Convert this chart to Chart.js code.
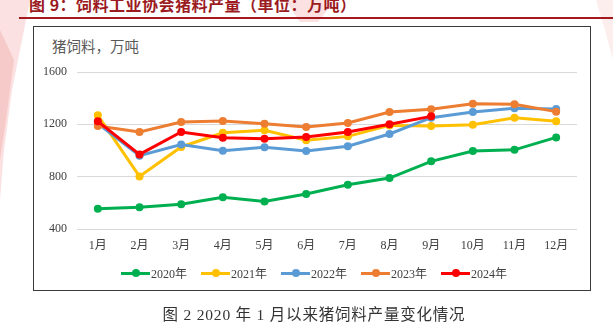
<!DOCTYPE html>
<html>
<head>
<meta charset="utf-8">
<script src="https://cdn.jsdelivr.net/npm/chart.js@4/dist/chart.umd.min.js"></script>
<style>
  html, body { margin: 0; padding: 0; background: #fff; }
  #wrap { position: relative; width: 613px; height: 335px; overflow: hidden; background: #fff; }
  #wm { position: absolute; left: 0; top: 0; }
  #title { position: absolute; left: 29px; top: -8px; font-family: "Noto Sans CJK SC", sans-serif; font-weight: bold; font-size: 16px; color: #9b1b1f; white-space: nowrap; letter-spacing: 0.5px; }
  #rule { position: absolute; left: 19px; top: 17px; width: 594px; height: 2px; background: #a3191e; }
  #box { position: absolute; left: 33px; top: 26px; width: 558px; height: 265px; border: 1.5px solid #3a3a3a; box-sizing: border-box; }
  #ylab { position: absolute; left: 52px; top: 35px; font-family: "Noto Sans CJK SC", sans-serif; font-size: 14.5px; color: #595959; }
  #chart { position: absolute; left: 0; top: 0; }
  #legend { position: absolute; left: 121px; top: 264px; display: flex; font-family: "Liberation Serif", "Noto Sans CJK SC", serif; font-size: 12px; color: #404040; }
  .li { display: flex; align-items: center; margin-right: 14px; }
  .sw { position: relative; width: 29px; height: 3px; margin-right: 1px; }
  .sw i { position: absolute; left: 11px; top: -2.5px; width: 8px; height: 8px; border-radius: 50%; }
  #cap { position: absolute; left: 0; width: 628px; text-align: center; top: 302px; font-family: "Liberation Serif", "Noto Sans CJK SC", serif; font-size: 15.5px; letter-spacing: 0.8px; color: #333; white-space: nowrap; }
</style>
</head>
<body>
<div id="wrap">
  <svg id="wm" width="613" height="335">
    <polygon points="0,0 30,0 22,40 12,90 4,150 0,200" fill="#fbe1e1"/>
    <polygon points="0,30 14,60 6,120 0,160" fill="#f7caca"/>
    <polygon points="285,0 335,0 318,22 300,22" fill="#fbe1e1"/>
    <polygon points="596,0 613,0 613,60 605,30" fill="#fdeeee"/>
  </svg>
  <div id="title">图 9：饲料工业协会猪料产量（单位：万吨）</div>
  <div id="rule"></div>
  <div id="box"></div>
  <div id="ylab">猪饲料，万吨</div>
  <canvas id="chart" width="613" height="335"></canvas>
  <div id="legend"></div>
  <div id="cap">图 2 2020 年 1 月以来猪饲料产量变化情况</div>
</div>
<script>
const months = ["1月","2月","3月","4月","5月","6月","7月","8月","9月","10月","11月","12月"];
const seriesNames = ["2020年","2021年","2022年","2023年","2024年"];
const seriesColors = ["#00B050","#FFC000","#5B9BD5","#ED7D31","#FF0000"];
const y2020 = [555, 567, 590, 642, 611, 667, 738, 789, 917, 996, 1005, 1100];
const y2021 = [1269, 802, 1027, 1136, 1154, 1078, 1108, 1192, 1187, 1197, 1251, 1223];
const y2022 = [1205, 960, 1045, 999, 1024, 996, 1032, 1126, 1251, 1294, 1322, 1317];
const y2023 = [1187, 1141, 1218, 1225, 1205, 1180, 1210, 1294, 1315, 1358, 1353, 1297];
const y2024 = [1223, 970, 1141, 1098, 1090, 1103, 1141, 1200, 1261];
const yTicks = [400, 800, 1200, 1600];
const seriesData = [y2020, y2021, y2022, y2023, y2024];

const datasets = seriesData.map((d, i) => ({
  label: seriesNames[i],
  data: d,
  borderColor: seriesColors[i],
  backgroundColor: seriesColors[i],
  borderWidth: 3,
  pointRadius: 4,
  pointHoverRadius: 4,
  pointBorderWidth: 0,
  tension: 0,
  order: seriesData.length - 1 - i
}));

const serif = '"Liberation Serif", "Noto Sans CJK SC", serif';
new Chart(document.getElementById('chart'), {
  type: 'line',
  data: { labels: months, datasets },
  options: {
    responsive: false,
    animation: false,
    devicePixelRatio: 1,
    layout: { padding: { top: 72, right: 36, left: 0, bottom: 0 } },
    plugins: { legend: { display: false }, tooltip: { enabled: false } },
    scales: {
      x: {
        offset: true,
        grid: { display: false, drawTicks: false, offset: true },
        border: { display: false },
        ticks: { font: { family: serif, size: 12 }, color: '#404040', padding: 10, maxRotation: 0 },
        afterFit: s => { s.height = 106; }
      },
      y: {
        min: yTicks[0], max: yTicks[yTicks.length - 1],
        afterBuildTicks: s => { s.ticks = yTicks.map(v => ({ value: v })); },
        grid: { color: '#d9d9d9', lineWidth: 1, drawTicks: false },
        border: { display: false },
        ticks: { font: { family: serif, size: 12 }, color: '#404040', padding: 10, callback: v => String(v) },
        afterFit: s => { s.width = 77; }
      }
    }
  }
});

const lg = document.getElementById('legend');
seriesNames.forEach((n, i) => {
  const el = document.createElement('div');
  el.className = 'li';
  el.innerHTML = '<span class="sw" style="background:' + seriesColors[i] + '"><i style="background:' + seriesColors[i] + '"></i></span><span>' + n + '</span>';
  lg.appendChild(el);
});
</script>
</body>
</html>
